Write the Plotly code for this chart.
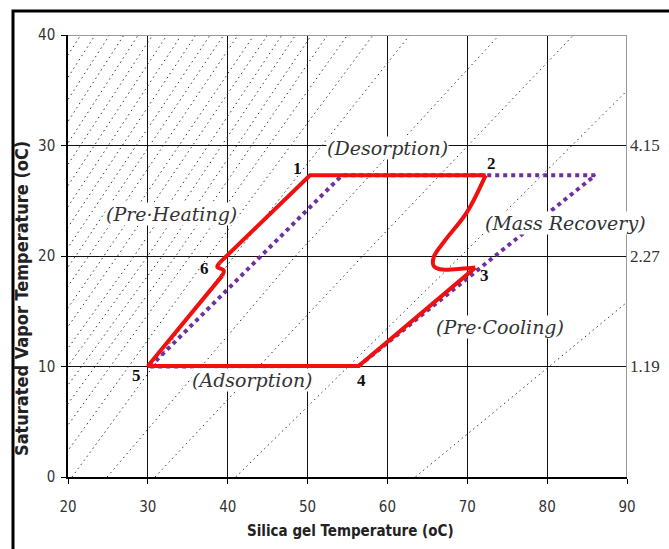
import plotly.graph_objects as go

# ---- data ----
# isosteres (dotted): x position (silica gel temp) at saturated vapour temp 0, 20, 40 oC
iso_levels = [0, 20, 40]
iso_x_at_0 = [63.5, 41.0, 30.9, 24.9, 20.5, 17.6, 15.3, 13.3, 11.6, 9.9, 8.4, 6.8, 5.3, 3.6,
              2.0, 0.5, -1.1, -2.7, -4.3, -5.9, -7.4, -9.0, -10.6, -12.1, -13.7, -15.3]
iso_x_at_20 = [97.0, 69.2, 56.9, 48.5, 40.8, 37.6, 35.3, 33.5, 31.8, 30.0, 28.3, 26.2, 24.5, 22.6,
               20.95, 19.3, 17.6, 15.9, 14.2, 12.5, 10.8, 9.1, 7.4, 5.7, 4.0, 2.3]
iso_x_at_40 = [130.0, 97.0, 83.3, 74.0, 62.8, 58.2, 55.0, 52.5, 50.5, 48.5, 46.8, 45.0, 43.3, 41.3,
               39.5, 37.8, 36.0, 34.2, 32.4, 30.6, 28.8, 27.0, 25.2, 23.4, 21.6, 19.8]

# actual cycle (red), split into straight and curved parts
seg_top_x = [39.0, 50.3, 72.3]            # 6 -> 1 -> 2
seg_top_y = [19.4, 27.3, 27.3]
seg_mr_x = [72.3, 69.9, 67.2, 65.8, 65.8, 66.6, 68.5, 71.0]   # 2 -> 3 (mass recovery)
seg_mr_y = [27.3, 23.9, 21.4, 19.9, 19.1, 18.8, 18.8, 18.95]
seg_low_x = [71.0, 56.4, 30.0, 39.3]      # 3 -> 4 -> 5 -> 6
seg_low_y = [18.95, 10.05, 10.05, 18.2]
seg_hook_x = [39.3, 39.5, 38.7, 39.0]     # small hook at 6
seg_hook_y = [18.2, 18.7, 19.0, 19.4]

# ideal cycle (purple dotted)
ideal_x = [30.3, 54.3, 86.0, 56.4, 30.0]
ideal_y = [10.0, 27.3, 27.3, 10.05, 10.0]

# state point labels
pt_labels = ["1", "2", "3", "4", "5", "6"]
pt_x = [48.8, 73.0, 72.2, 56.7, 28.6, 37.1]
pt_y = [27.9, 28.4, 18.2, 8.7, 9.2, 18.9]

# process labels
proc_labels = ["(Desorption)", "(Pre·Heating)", "(Mass Recovery)", "(Pre·Cooling)", "(Adsorption)"]
proc_x = [60.0, 33.0, 82.3, 74.1, 43.1]
proc_y = [29.75, 23.8, 22.95, 13.6, 8.8]

# saturation pressures on right
press_labels = ["4.15", "2.27", "1.19"]
press_y = [30, 20, 10]

x_ticks = [20, 30, 40, 50, 60, 70, 80, 90]
y_ticks = [0, 10, 20, 30, 40]

fig = go.Figure()

# isosteres
for a, b, c in zip(iso_x_at_0, iso_x_at_20, iso_x_at_40):
    fig.add_trace(go.Scatter(x=[a, b, c], y=iso_levels, mode="lines",
                             line=dict(color="#3a3a3a", width=1, dash="1.5px,3.5px"),
                             hoverinfo="skip", showlegend=False))

fig.add_trace(go.Scatter(x=ideal_x, y=ideal_y, mode="lines",
                         line=dict(color="#7030A0", width=4, dash="4px,4px"),
                         hoverinfo="skip", showlegend=False))

red = "#F01010"
for sx, sy, shp in [(seg_top_x, seg_top_y, "linear"), (seg_mr_x, seg_mr_y, "spline"),
                    (seg_low_x, seg_low_y, "linear"), (seg_hook_x, seg_hook_y, "spline")]:
    fig.add_trace(go.Scatter(x=sx, y=sy, mode="lines",
                             line=dict(color=red, width=4, shape=shp),
                             hoverinfo="skip", showlegend=False))

narrow = "Liberation Sans Narrow, DejaVu Sans Condensed, Arial Narrow, sans-serif"

ann = []
for t, x, y in zip(pt_labels, pt_x, pt_y):
    ann.append(dict(x=x, y=y, text="<b>" + t + "</b>", showarrow=False,
                    font=dict(family="Liberation Serif, Times New Roman, serif", size=17, color="#111")))
for t, x, y in zip(proc_labels, proc_x, proc_y):
    ann.append(dict(x=x, y=y, text="<i>" + t + "</i>", showarrow=False, bgcolor="white",
                    borderpad=0,
                    font=dict(family="DejaVu Serif, serif", size=19, color="#333")))
for t, y in zip(press_labels, press_y):
    ann.append(dict(x=90, y=y, text=t, showarrow=False, xanchor="left", xshift=1,
                    font=dict(family="Liberation Serif, serif", size=17, color="#333")))
ann.append(dict(xref="paper", yref="paper", x=(350 - 68) / 559, y=(477 - 531) / 442,
                xanchor="center", yanchor="middle",
                text="<b>Silica gel Temperature (oC)</b>", showarrow=False,
                font=dict(family=narrow, size=15, color="#222")))
ann.append(dict(xref="paper", yref="paper", x=(21 - 68) / 559, y=(477 - 299) / 442,
                xanchor="center", yanchor="middle",
                text="<b>Saturated Vapor Temperature (oC)</b>", showarrow=False, textangle=-90,
                font=dict(family=narrow, size=18, color="#222")))

shapes = [
    dict(type="line", x0=20, x1=90, y0=40, y1=40, xref="x", yref="y",
         line=dict(color="#999999", width=2), layer="above"),
    dict(type="line", x0=90, x1=90, y0=0, y1=40, xref="x", yref="y",
         line=dict(color="#999999", width=2), layer="above"),
    dict(type="rect", xref="paper", yref="paper", x0=(13 - 68) / 559, x1=(690 - 68) / 559,
         y0=(477 - 570) / 442, y1=(477 - 11) / 442, line=dict(color="black", width=3),
         fillcolor="rgba(0,0,0,0)", layer="above"),
]

fig.update_layout(
    width=669, height=549,
    margin=dict(l=68, r=42, t=35, b=72),
    paper_bgcolor="white", plot_bgcolor="white",
    showlegend=False, hovermode=False,
    annotations=ann, shapes=shapes,
    xaxis=dict(range=[20, 90], tickvals=x_ticks, showgrid=True, gridcolor="#111", gridwidth=1,
               showline=True, linecolor="black", linewidth=1.5, ticks="outside", ticklen=5,
               tickcolor="black", zeroline=False, ticklabelstandoff=10,
               tickfont=dict(family=narrow, size=15, color="#333")),
    yaxis=dict(range=[0, 40], tickvals=y_ticks, showgrid=True, gridcolor="#111", gridwidth=1,
               showline=True, linecolor="black", linewidth=1.5, ticks="outside", ticklen=5,
               tickcolor="black", zeroline=False, ticklabelstandoff=3,
               tickfont=dict(family=narrow, size=15, color="#333")),
)

fig.write_html("out.html", config={"displayModeBar": False},
               post_script="document.body.style.margin='0px';document.body.style.overflow='hidden';")
